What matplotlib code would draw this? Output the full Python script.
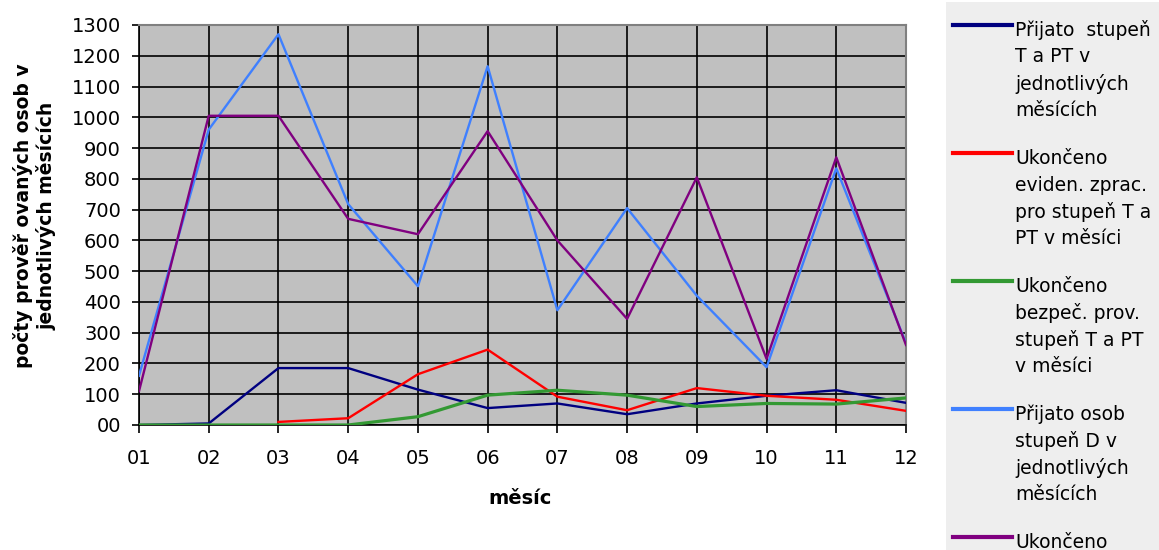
import matplotlib
matplotlib.use("Agg")
import matplotlib.pyplot as plt
from matplotlib.patches import Rectangle
from matplotlib.lines import Line2D
import numpy as np

plt.rcParams['font.family'] = ['DejaVu Sans']

months = ["01", "02", "03", "04", "05", "06", "07", "08", "09", "10", "11", "12"]

prijato_T_PT = [0, 5, 185, 185, 115, 55, 70, 35, 70, 95, 113, 72]
ukonceno_eviden = [np.nan, np.nan, 10, 22, 165, 245, 92, 48, 120, 95, 82, 46]
ukonceno_bezpec = [0, 0, 0, 0, 27, 97, 113, 97, 60, 70, 68, 88]
prijato_D = [160, 960, 1270, 718, 451, 1166, 373, 705, 420, 188, 834, 266]
ukonceno_D = [110, 1005, 1005, 670, 620, 955, 600, 345, 805, 215, 870, 260]

labels = [
    "Přijato  stupeň\nT a PT v\njednotlivých\nměsících",
    "Ukončeno\neviden. zprac.\npro stupeň T a\nPT v měsíci",
    "Ukončeno\nbezpeč. prov.\nstupeň T a PT\nv měsíci",
    "Přijato osob\nstupeň D v\njednotlivých\nměsících",
    "Ukončeno",
]
series = [prijato_T_PT, ukonceno_eviden, ukonceno_bezpec, prijato_D, ukonceno_D]
colors = ["#000080", "#ff0000", "#339933", "#3f80ff", "#800080"]
widths = [1.7, 1.7, 2.3, 1.7, 1.7]
yticks = list(range(0, 1301, 100))
ytick_labels = ["00"] + [str(v) for v in yticks[1:]]

W, H = 1159, 550
fig = plt.figure(figsize=(W / 100, H / 100), dpi=100)
ax = fig.add_axes([139 / W, 1 - 425 / H, (906 - 139) / W, (425 - 25) / H])
ax.set_facecolor("#c0c0c0")

x = np.arange(len(months))
for s, c, lw, lab in zip(series, colors, widths, labels):
    ax.plot(x, s, color=c, lw=lw, label=lab, zorder=3)

ax.set_xlim(0, len(months) - 1)
ax.set_ylim(0, 1300)
ax.set_xticks(x)
ax.set_xticklabels(months, fontsize=14)
ax.set_yticks(yticks)
ax.set_yticklabels(ytick_labels, fontsize=14)
ax.grid(True, color="black", lw=1.2, zorder=1)
ax.set_axisbelow(True)
ax.tick_params(axis="x", direction="out", length=6, width=1.2, color="black", pad=11)
ax.tick_params(axis="y", direction="out", length=5, width=1.2, color="black", pad=8)
for side in ["top", "right"]:
    ax.spines[side].set_color("#808080")
    ax.spines[side].set_linewidth(1.5)
for side in ["left", "bottom"]:
    ax.spines[side].set_color("black")
    ax.spines[side].set_linewidth(1.2)

fig.text(520 / W, 1 - 499 / H, "měsíc", fontsize=14, fontweight="bold", ha="center", va="center")
fig.text(35 / W, 1 - 216 / H, "počty prověř ovaných osob v\njednotlivých měsících",
         fontsize=13.5, fontweight="bold", ha="center", va="center", rotation=90,
         linespacing=1.2)

# legend (drawn from the labels / colors lists)
fig.patches.append(Rectangle((946 / W, 0), (W - 946) / W, 1 - 2 / H,
                             transform=fig.transFigure, facecolor="#eeeeee",
                             edgecolor="none", zorder=0))
entry_step = 128
first_y = 30
line_step = 27
for i, (lab, c) in enumerate(zip(labels, colors)):
    y0 = first_y + i * entry_step
    fig.lines.append(Line2D([953 / W, 1012 / W], [1 - (y0 - 5) / H] * 2,
                            transform=fig.transFigure, color=c, lw=3))
    for j, line in enumerate(lab.split("\n")):
        fig.text(1015 / W, 1 - (y0 + j * line_step) / H, line, fontsize=13.5,
                 ha="left", va="center")

fig.savefig("out.png", dpi=100, facecolor="white")
